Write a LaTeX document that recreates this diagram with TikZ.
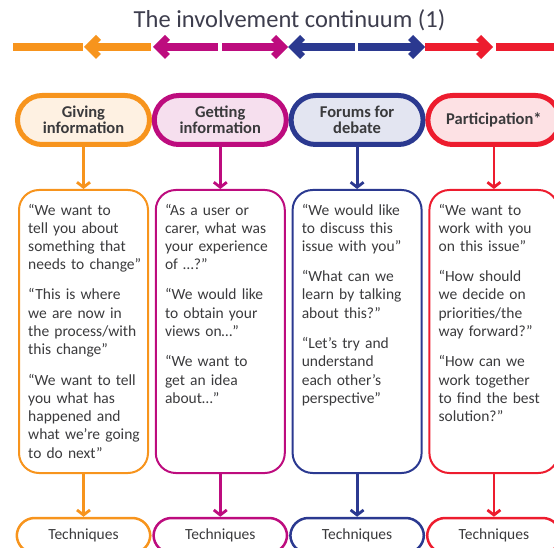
\documentclass[tikz,border=0pt]{standalone}
\usepackage{fontspec}
\setmainfont{Carlito}
\usetikzlibrary{arrows.meta}
\definecolor{giveC}{HTML}{F7941D}
\definecolor{getC}{HTML}{BD0C7E}
\definecolor{forumC}{HTML}{2B3990}
\definecolor{partC}{HTML}{ED1C2E}
\definecolor{inkC}{HTML}{3A3A3C}
\definecolor{titleC}{HTML}{3D3D4D}
\tikzset{
	headbox/.style={draw=#1, fill=#1!13, line width=5pt, rounded corners=24.5pt,
		minimum width=132pt, minimum height=49pt, inner sep=0pt, align=center,
		text=inkC, font=\bfseries\fontsize{16.5}{16.4}\selectfont},
	quotebox/.style={draw=#1, line width=2pt, rounded corners=20pt,
		minimum width=129pt, minimum height=283pt, inner sep=0pt},
	quotes/.style={anchor=base west, text width=125pt, align=left, inner sep=0pt,
		text=inkC, font=\fontsize{15.5}{18.3}\selectfont},
	techbox/.style={draw=#1, line width=2.5pt, rounded corners=18pt,
		minimum width=133.5pt, minimum height=35pt, inner sep=0pt,
		text=inkC, font=\fontsize{15.5}{18}\selectfont},
	down/.style={draw=#1, line width=2.8pt, -{Straight Barb[length=5pt,width=13pt]}}
}
\begin{document}
\begin{tikzpicture}[x=1pt,y=-1pt]
	\useasboundingbox (0,0) rectangle (554,548);
	\clip (0,0) rectangle (554,548);
	% title
	\node[anchor=base, text=titleC, font=\fontsize{24.5}{28}\selectfont] (title) at (289.5,28) {The involvement continuum (1)};
	% the continuum bar, segments then arrow heads
	\foreach \a/\b/\c in {13/83/giveC, 88/151/giveC, 158/218/getC, 222/283/getC, 293/355/forumC, 358/420/forumC, 425/488/partC, 496/560/partC}
		\draw[\c, line width=8pt] (\a,47) -- (\b,47);
	\foreach \t/\d/\c in {84/1/giveC, 153/1/getC, 288/-1/getC, 288/1/forumC, 425/-1/forumC, 493/-1/partC}
		\fill[\c] (\t,47) -- ++(12*\d,-12) -- ++(4.95*\d,4.95) -- ++(-7.05*\d,7.05) -- ++(7.05*\d,7.05) -- ++(-4.95*\d,4.95) -- cycle;
	% one column per level
	\foreach \n/\c/\x/\h in {give/giveC/83.5/Giving\\information, get/getC/220.3/Getting\\information, forum/forumC/357.1/Forums for\\debate, part/partC/493.9/Participation*} {
		\node[headbox=\c] (\n) at (\x,120) {\h};
		\node[quotebox=\c] (\n-box) at (\x,331.5) {};
		\node[techbox=\c] (\n-tech) at (\x,535.5) {Techniques};
		\draw[down=\c] (\n) -- (\n-box);
		\draw[down=\c] (\n-box) -- (\n-tech);
	}
	% what each level sounds like
	\node[quotes] (give-txt) at (28,215) {“We want to\\tell you about\\something that\\needs to change”\\[11.8pt]%
		“This is where\\we are now in\\the process/with\\this change”\\[11.8pt]%
		“We want to tell\\you what has\\happened and\\what we’re going\\to do next”};
	\node[quotes] (get-txt) at (164.8,215) {“As a user or\\carer, what was\\your experience\\of …?”\\[11.8pt]%
		“We would like\\to obtain your\\views on…”\\[11.8pt]%
		“We want to\\get an idea\\about…”};
	\node[quotes] (forum-txt) at (301.6,215) {“We would like\\to discuss this\\issue with you”\\[11.8pt]%
		“What can we\\learn by talking\\about this?”\\[11.8pt]%
		“Let’s try and\\understand\\each other’s\\perspective”};
	\node[quotes] (part-txt) at (438.4,215) {“We want to\\work with you\\on this issue”\\[11.8pt]%
		“How should\\we decide on\\priorities/the\\way forward?”\\[11.8pt]%
		“How can we\\work together\\to find the best\\solution?”};
\end{tikzpicture}
\end{document}
